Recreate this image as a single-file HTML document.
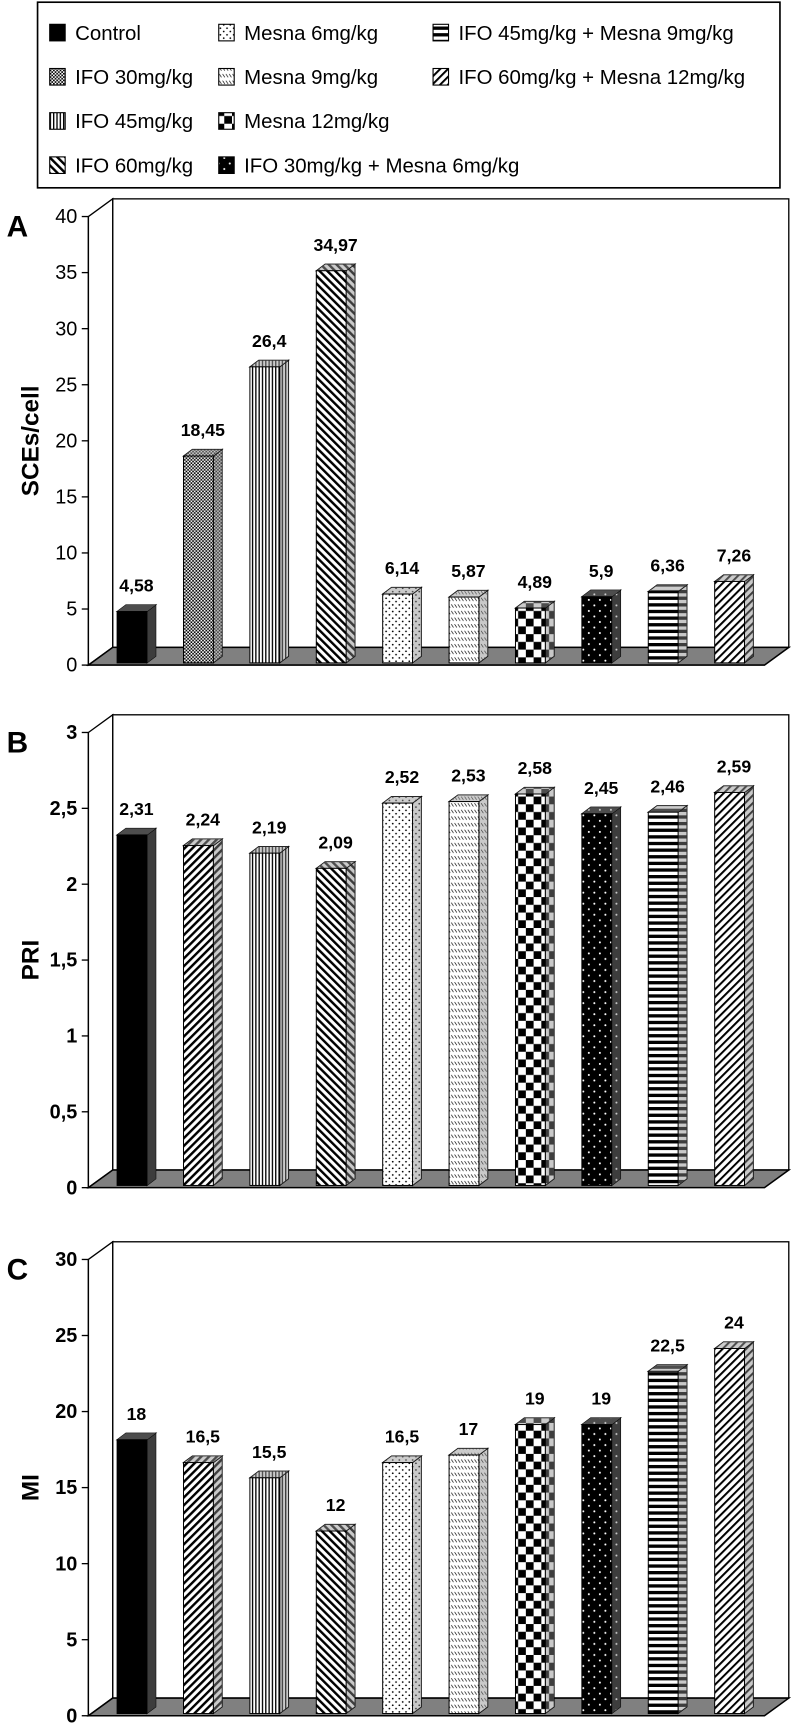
<!DOCTYPE html>
<html><head><meta charset="utf-8"><style>
html,body{margin:0;padding:0;background:#fff}
svg{display:block}
text{font-family:"Liberation Sans",Arial,sans-serif}
</style></head><body>
<svg id="chart" width="791" height="1729" viewBox="0 0 716 1565" preserveAspectRatio="none" xmlns="http://www.w3.org/2000/svg">
<defs>
<pattern id="p0" width="4" height="4" patternUnits="userSpaceOnUse"><rect width="4" height="4" fill="#000"/></pattern>
<pattern id="p1" width="3" height="3" patternUnits="userSpaceOnUse"><rect width="3" height="3" fill="#fff"/><rect width="1.5" height="1.5" fill="#000"/><rect x="1.5" y="1.5" width="1.5" height="1.5" fill="#000"/></pattern>
<pattern id="p2" width="3" height="4" patternUnits="userSpaceOnUse"><rect width="3" height="4" fill="#fff"/><rect width="1.2" height="4" fill="#000"/></pattern>
<pattern id="p3" width="5" height="5" patternUnits="userSpaceOnUse" patternTransform="rotate(-45)"><rect width="5" height="5" fill="#fff"/><rect width="2.2" height="5" fill="#000"/></pattern>
<pattern id="p4" width="6" height="6" patternUnits="userSpaceOnUse"><rect width="6" height="6" fill="#fff"/><circle cx="1.5" cy="1.5" r="0.8" fill="#000"/><circle cx="4.5" cy="4.5" r="0.8" fill="#000"/></pattern>
<pattern id="p5" width="6" height="6" patternUnits="userSpaceOnUse"><rect width="6" height="6" fill="#fff"/><path d="M0.5 1 L2.5 4 M3.5 1 L5.5 4" stroke="#000" stroke-width="0.6"/></pattern>
<pattern id="p6" width="14" height="14" patternUnits="userSpaceOnUse"><rect width="14" height="14" fill="#fff"/><rect width="7" height="7" fill="#000"/><rect x="7" y="7" width="7" height="7" fill="#000"/></pattern>
<pattern id="p7" width="10" height="10" patternUnits="userSpaceOnUse"><rect width="10" height="10" fill="#000"/><circle cx="3" cy="3" r="0.9" fill="#fff"/><circle cx="8" cy="8" r="0.9" fill="#fff"/></pattern>
<pattern id="p8" width="4" height="6" patternUnits="userSpaceOnUse"><rect width="4" height="6" fill="#fff"/><rect width="4" height="3" fill="#000"/></pattern>
<pattern id="p9" width="5" height="5" patternUnits="userSpaceOnUse" patternTransform="rotate(45)"><rect width="5" height="5" fill="#fff"/><rect width="1.8" height="5" fill="#000"/></pattern>
<pattern id="p10" width="5" height="5" patternUnits="userSpaceOnUse" patternTransform="rotate(45)"><rect width="5" height="5" fill="#fff"/><rect width="2.2" height="5" fill="#000"/></pattern>
</defs>
</svg>
<script>
const categories = ["Control","IFO 30mg/kg","IFO 45mg/kg","IFO 60mg/kg","Mesna 6mg/kg","Mesna 9mg/kg","Mesna 12mg/kg","IFO 30mg/kg + Mesna 6mg/kg","IFO 45mg/kg + Mesna 9mg/kg","IFO 60mg/kg + Mesna 12mg/kg"];
const sceValues = [4.58,18.45,26.4,34.97,6.14,5.87,4.89,5.9,6.36,7.26];
const sceLabels = ["4,58","18,45","26,4","34,97","6,14","5,87","4,89","5,9","6,36","7,26"];
const sceTicks = [0,5,10,15,20,25,30,35,40];
const priValues = [2.31,2.24,2.19,2.09,2.52,2.53,2.58,2.45,2.46,2.59];
const priLabels = ["2,31","2,24","2,19","2,09","2,52","2,53","2,58","2,45","2,46","2,59"];
const priTicks = [0,0.5,1,1.5,2,2.5,3];
const priTickLabels = ["0","0,5","1","1,5","2","2,5","3"];
const miValues = [18,16.5,15.5,12,16.5,17,19,19,22.5,24];
const miLabels = ["18","16,5","15,5","12","16,5","17","19","19","22,5","24"];
const miTicks = [0,5,10,15,20,25,30];

const NS="http://www.w3.org/2000/svg";
const svg=document.getElementById('chart');
function mk(tag,attrs,parent){const e=document.createElementNS(NS,tag);for(const k in attrs)e.setAttribute(k,attrs[k]);(parent||svg).appendChild(e);return e;}

const lg=mk('g',{});


mk('rect',{x:34,y:2,width:672,height:168,fill:'#fff',stroke:'#000','stroke-width':1.5},lg);
const legPat=['p0','p1','p2','p3','p4','p5','p6','p7','p8','p9'];
const legPos=[[45,30],[45,70],[45,110],[45,150],[198,30],[198,70],[198,110],[198,150],[392,30],[392,70]];
categories.forEach((c,i)=>{
  const g=mk('g',{},lg);
  
  
  const [x,y]=legPos[i];
  mk('rect',{x:x,y:y-8,width:14,height:15,fill:'url(#'+legPat[i]+')',stroke:'#000','stroke-width':1},g);
  const t=mk('text',{x:x+23,y:y+6,'font-size':18.5,fill:'#000'},g);t.textContent=c;
});

function drawChart(o){
  const g=mk('g',{});
  
  
  const x0=80, y0=o.zeroY, yTop=o.topY, dx=22, dy=-16, xr=692;
  const sc=v=>y0-(v-o.ticks[0])/(o.ticks[o.ticks.length-1]-o.ticks[0])*(y0-yTop);
  mk('rect',{x:x0+dx,y:yTop+dy,width:xr-x0,height:y0-yTop,fill:'#fff',stroke:'#000','stroke-width':1.2},g);
  mk('path',{d:`M${x0} ${yTop} L${x0+dx} ${yTop+dy} L${x0+dx} ${y0+dy} L${x0} ${y0} Z`,fill:'#fff',stroke:'#000','stroke-width':1.2},g);
  const fl=mk('path',{d:`M${x0} ${y0} L${xr} ${y0} L${xr+dx} ${y0+dy} L${x0+dx} ${y0+dy} Z`,fill:'#808080',stroke:'#000','stroke-width':1.4},g);
  
  o.ticks.forEach((t,i)=>{
    const y=sc(t);
    mk('line',{x1:x0-6,y1:y,x2:x0,y2:y,stroke:'#000','stroke-width':1.2},g);
    const tx=mk('text',{x:x0-10,y:y+6,'font-size':18,'text-anchor':'end',fill:'#000','font-weight':o.boldTicks?'bold':'normal'},g);
    tx.textContent=o.tickLabels?o.tickLabels[i]:String(t);
    
  });
  mk('line',{x1:x0,y1:yTop,x2:x0,y2:y0,stroke:'#000','stroke-width':1.2},g);
  const yt=mk('text',{x:0,y:0,'font-size':22,'font-weight':'bold','text-anchor':'middle',transform:`translate(35,${(yTop+y0)/2}) rotate(-90)`},g);
  yt.textContent=o.title; 
  const pl=mk('text',{x:6,y:yTop+18,'font-size':27,'font-weight':'bold'},g);
  pl.textContent=o.letter; 
  const bw=27, bdx=8, bdy=-6, base=y0-2;
  o.values.forEach((v,i)=>{
    const bg=mk('g',{},g);
    
    
    const bx=106+i*60.1, top=sc(v)-2, pat='url(#'+o.pats[i]+')';
    mk('path',{d:`M${bx+bw} ${base} L${bx+bw+bdx} ${base+bdy} L${bx+bw+bdx} ${top+bdy} L${bx+bw} ${top} Z`,fill:pat,stroke:'#000','stroke-width':0.9},bg);
    mk('path',{d:`M${bx+bw} ${base} L${bx+bw+bdx} ${base+bdy} L${bx+bw+bdx} ${top+bdy} L${bx+bw} ${top} Z`,fill:'#888','fill-opacity':0.45},bg);
    mk('path',{d:`M${bx} ${top} L${bx+bdx} ${top+bdy} L${bx+bw+bdx} ${top+bdy} L${bx+bw} ${top} Z`,fill:pat,stroke:'#000','stroke-width':0.9},bg);
    mk('path',{d:`M${bx} ${top} L${bx+bdx} ${top+bdy} L${bx+bw+bdx} ${top+bdy} L${bx+bw} ${top} Z`,fill:'#999','fill-opacity':0.5},bg);
    mk('rect',{x:bx,y:top,width:bw,height:base-top,fill:pat,stroke:'#000','stroke-width':0.9},bg);
    const lt=mk('text',{x:bx+bw/2+4,y:top-18,'font-size':16,'font-weight':'bold','text-anchor':'middle'},bg);
    lt.textContent=o.labels[i]; 
  });
}
drawChart({name:'chart-a-sces',letter:'A',title:'SCEs/cell',values:sceValues,labels:sceLabels,ticks:sceTicks,zeroY:602,topY:196,boldTicks:false,pats:['p0','p1','p2','p3','p4','p5','p6','p7','p8','p9']});
drawChart({name:'chart-b-pri',letter:'B',title:'PRI',values:priValues,labels:priLabels,ticks:priTicks,tickLabels:priTickLabels,zeroY:1075,topY:663,boldTicks:true,pats:['p0','p10','p2','p3','p4','p5','p6','p7','p8','p9']});
drawChart({name:'chart-c-mi',letter:'C',title:'MI',values:miValues,labels:miLabels,ticks:miTicks,zeroY:1553,topY:1140,boldTicks:true,pats:['p0','p10','p2','p3','p4','p5','p6','p7','p8','p9']});
</script>
</body></html>
